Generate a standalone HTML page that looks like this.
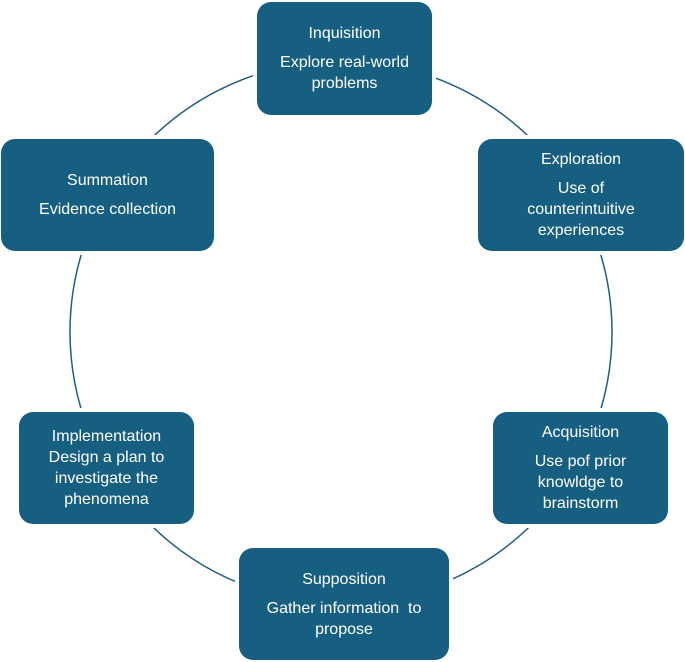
<!DOCTYPE html>
<html><head><meta charset="utf-8"><style>
body{margin:0;width:685px;height:662px;background:#fff;position:relative;overflow:hidden;font-family:"Liberation Sans",sans-serif}
.b{position:absolute;background:#175f80;border-radius:14px;color:#fff;font-size:16px;line-height:21px;text-align:center;display:flex;flex-direction:column;justify-content:center;align-items:center;box-shadow:0 0 0 4px #fff}
.b .t{margin-bottom:8px}
</style></head><body>
<svg width="685" height="662" style="position:absolute;left:0;top:0">
<circle cx="341" cy="332" r="271" fill="none" stroke="#1f5f7e" stroke-width="1.5"/>
</svg>
<div class="b" style="left:257px;top:2px;width:175px;height:113px"><div class="t">Inquisition</div><div>Explore real-world<br>problems</div></div>
<div class="b" style="left:478px;top:139px;width:206px;height:112px"><div class="t">Exploration</div><div>Use of<br>counterintuitive<br>experiences</div></div>
<div class="b" style="left:493px;top:412px;width:175px;height:112px"><div class="t">Acquisition</div><div>Use pof prior<br>knowldge to<br>brainstorm</div></div>
<div class="b" style="left:239px;top:548px;width:210px;height:112px"><div class="t">Supposition</div><div>Gather information&nbsp; to<br>propose</div></div>
<div class="b" style="left:19px;top:412px;width:175px;height:112px"><div>Implementation<br>Design a plan to<br>investigate the<br>phenomena</div></div>
<div class="b" style="left:1px;top:139px;width:213px;height:112px"><div class="t">Summation</div><div>Evidence collection</div></div>
</body></html>
